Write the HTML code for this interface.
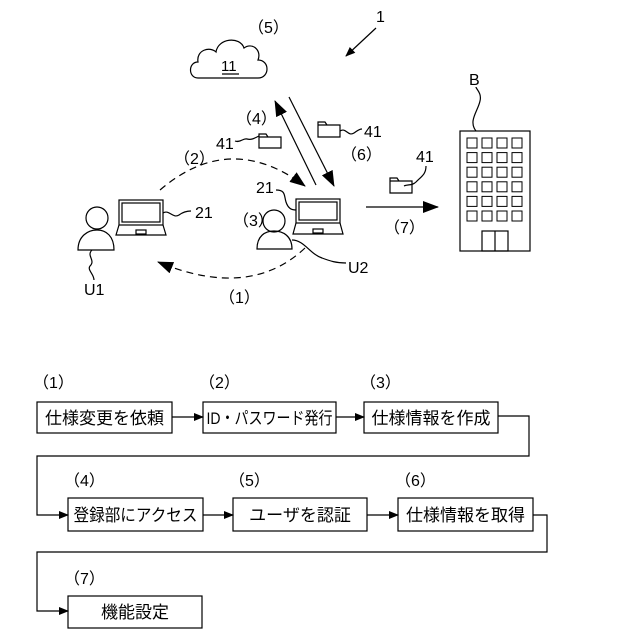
<!DOCTYPE html>
<html><head><meta charset="utf-8"><style>
body{margin:0;background:#fff}
svg{display:block}
text{font-family:"Liberation Sans","Noto Sans CJK JP",sans-serif;fill:#000}
</style></head><body>
<svg width="640" height="640" viewBox="0 0 640 640" xmlns="http://www.w3.org/2000/svg">
<defs>
<marker id="a" markerWidth="10" markerHeight="8" refX="9" refY="4" orient="auto" markerUnits="userSpaceOnUse"><path d="M0,0 L10,4 L0,8 z" fill="#000"/></marker>
<marker id="b" markerWidth="16" markerHeight="12" refX="15" refY="6" orient="auto" markerUnits="userSpaceOnUse"><path d="M0,0 L16,6 L0,12 z" fill="#000"/></marker>
</defs>
<g fill="none" stroke="#000" stroke-width="1.2">
<path d="M198,78 C188,78 188,62 198,62 C196,50 210,46 216,52 C218,38 240,36 244,48 C252,42 262,50 258,60 C270,60 270,78 258,78 Z"/>
<line x1="222" y1="74" x2="239" y2="74"/>
<line x1="376" y1="28" x2="346" y2="56" marker-end="url(#a)"/>
<line x1="316" y1="185" x2="275" y2="101" marker-end="url(#b)"/>
<line x1="289" y1="97" x2="334" y2="186" marker-end="url(#b)"/>
<path d="M160,190 Q230,130 305,186" stroke-dasharray="7,5" marker-end="url(#b)"/>
<path d="M305,248 Q250,300 158,262" stroke-dasharray="7,5" marker-end="url(#b)"/>
<line x1="366" y1="207" x2="438" y2="207" marker-end="url(#b)"/>
<path d="M259,134 h7 l2,3 h13 v11 h-22 z M259,137 h22"/>
<path d="M318,122 h7 l2,3 h13 v12 h-22 z M318,125 h22"/>
<path d="M390,178 h7 l2,3 h13 v12 h-22 z M390,181 h22"/>
<path d="M235,141 c5,2 8,-3 12,-2 c4,1 6,0 12,-3"/>
<path d="M340,131 c6,-4 8,6 14,2 c3,-2 5,-4 8,-4"/>
<path d="M404,186 c4,-2 8,0 12,-4 c6,-6 10,-8 10,-16"/>
<rect x="119" y="200" width="44" height="25"/>
<rect x="122" y="203" width="38" height="19"/>
<path d="M119,225 L116,235 H166 L163,225"/>
<rect x="136" y="230" width="10" height="4"/>
<path d="M163,213 c6,-4 10,6 16,2 c4,-3 8,-4 12,-4"/>
<rect x="296" y="199" width="44" height="24"/>
<rect x="299" y="202" width="38" height="18"/>
<path d="M296,223 L293,234 H343 L340,223"/>
<rect x="313" y="229" width="10" height="4"/>
<path d="M276,190 c10,0 8,6 10,12 c2,6 5,8 10,8"/>
<circle cx="97" cy="218" r="11"/>
<path d="M78,250 C78,236 88,230 97,230 C106,230 114,236 114,250 Z"/>
<path d="M92,250 c-6,6 4,10 -2,16 c-3,4 4,8 4,14"/>
<circle cx="274" cy="221" r="11"/>
<path d="M257,249 C257,236 265,231 274,231 C283,231 292,236 292,249 Z"/>
<path d="M292,240 c12,0 18,14 30,18 c8,3 14,5 24,5"/>
<rect x="460" y="131" width="70" height="120"/>
<rect x="482" y="231" width="26" height="20"/><line x1="495" y1="231" x2="495" y2="251"/>
<path d="M476,131 c-8,-10 2,-20 4,-30 c2,-8 -4,-12 -4,-14"/>
</g>
<g fill="none" stroke="#000" stroke-width="1">
<g id="r"><rect x="467" y="138" width="10" height="10"/><rect x="482" y="138" width="10" height="10"/><rect x="497" y="138" width="10" height="10"/><rect x="512" y="138" width="10" height="10"/></g>
<use href="#r" y="14.6"/><use href="#r" y="29.2"/><use href="#r" y="43.8"/><use href="#r" y="58.4"/><use href="#r" y="73"/>
</g>
<g font-size="16">
<text x="221" y="71" font-size="15">11</text>
<text x="248" y="33">（5）</text>
<text x="376" y="22">1</text>
<text x="236" y="124">（4）</text>
<text x="216" y="149">41</text>
<text x="364" y="137">41</text>
<text x="341" y="160">（6）</text>
<text x="416" y="162">41</text>
<text x="174" y="164">（2）</text>
<text x="195" y="218">21</text>
<text x="256" y="193">21</text>
<text x="233" y="226">（3）</text>
<text x="384" y="233">（7）</text>
<text x="348" y="273">U2</text>
<text x="84" y="295">U1</text>
<text x="219" y="303">（1）</text>
<text x="469" y="85">B</text>
</g>
<g fill="none" stroke="#000" stroke-width="1.2">
<rect x="37" y="402" width="135" height="31"/>
<rect x="203" y="402" width="133" height="31"/>
<rect x="364" y="402" width="134" height="31"/>
<rect x="68" y="498" width="135" height="33"/>
<rect x="233" y="498" width="134" height="33"/>
<rect x="398" y="498" width="135" height="33"/>
<rect x="68" y="596" width="134" height="32"/>
<line x1="172" y1="417" x2="203" y2="417" marker-end="url(#a)"/>
<line x1="336" y1="417" x2="364" y2="417" marker-end="url(#a)"/>
<polyline points="498,416 529,416 529,456 37,456 37,515 68,515" marker-end="url(#a)"/>
<line x1="203" y1="515" x2="233" y2="515" marker-end="url(#a)"/>
<line x1="367" y1="515" x2="398" y2="515" marker-end="url(#a)"/>
<polyline points="533,515 547,515 547,552 37,552 37,611 68,611" marker-end="url(#a)"/>
</g>
<g font-size="17" text-anchor="middle">
<text x="104.5" y="424">仕様変更を依頼</text>
<text x="269.5" y="424" textLength="126" lengthAdjust="spacingAndGlyphs">ID・パスワード発行</text>
<text x="431" y="424">仕様情報を作成</text>
<text x="135.5" y="521" textLength="124" lengthAdjust="spacingAndGlyphs">登録部にアクセス</text>
<text x="300" y="521">ユーザを認証</text>
<text x="465.5" y="521">仕様情報を取得</text>
<text x="135" y="618">機能設定</text>
</g>
<g font-size="16">
<text x="33" y="388">（1）</text>
<text x="199" y="388">（2）</text>
<text x="360" y="388">（3）</text>
<text x="64" y="486">（4）</text>
<text x="229" y="486">（5）</text>
<text x="395" y="486">（6）</text>
<text x="64" y="584">（7）</text>
</g>
</svg>
</body></html>
